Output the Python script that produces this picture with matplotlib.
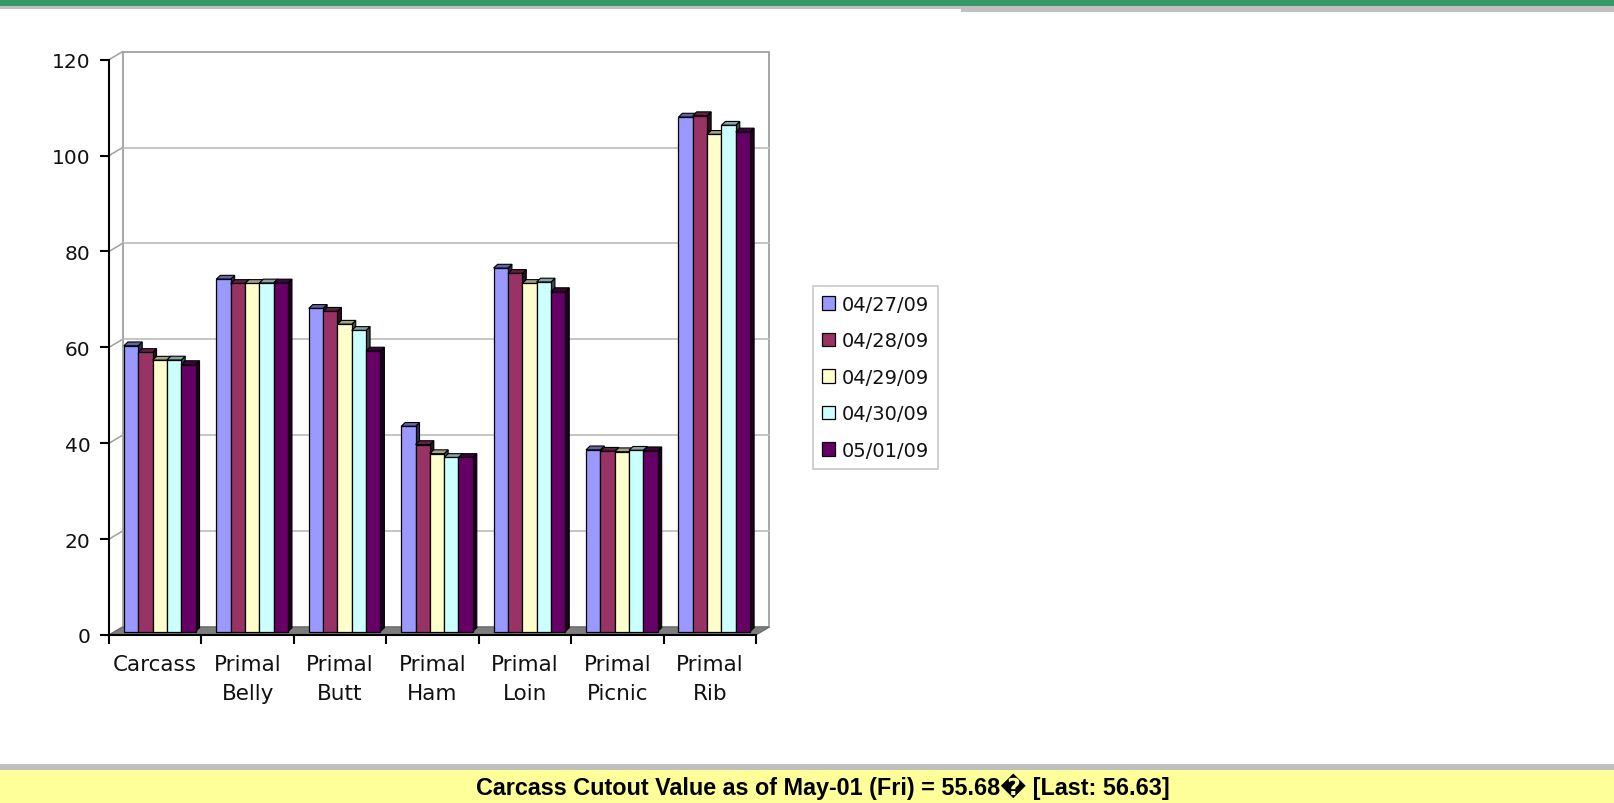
import matplotlib
matplotlib.use("Agg")
import matplotlib.pyplot as plt
from matplotlib.patches import Rectangle, Polygon, Patch
from matplotlib.colors import to_rgb
import numpy as np

categories = ["Carcass", "Primal\nBelly", "Primal\nButt", "Primal\nHam",
              "Primal\nLoin", "Primal\nPicnic", "Primal\nRib"]
dates = ["04/27/09", "04/28/09", "04/29/09", "04/30/09", "05/01/09"]
v_0427 = [59.6, 73.5, 67.4, 42.8, 75.8, 37.9, 107.3]
v_0428 = [58.2, 72.6, 66.8, 39.0, 74.7, 37.6, 107.6]
v_0429 = [56.6, 72.6, 64.1, 37.1, 72.6, 37.5, 103.7]
v_0430 = [56.63, 72.7, 62.8, 36.3, 72.9, 37.8, 105.6]
v_0501 = [55.68, 72.7, 58.5, 36.3, 70.9, 37.7, 104.2]
series = [v_0427, v_0428, v_0429, v_0430, v_0501]
colors = ["#9999FF", "#993366", "#FFFFCC", "#CCFFFF", "#660066"]
yticks = [0, 20, 40, 60, 80, 100, 120]
footer = "Carcass Cutout Value as of May-01 (Fri) = 55.68\ufffd [Last: 56.63]"

W, H = 1614, 804
fig = plt.figure(figsize=(W / 100, H / 100), dpi=100)
fig.patch.set_facecolor("white")

# plot area (front axis) in pixels
ax_l, ax_r, ax_b, ax_t = 109, 756, 636, 60.7
ax = fig.add_axes([ax_l / W, (H - ax_b) / H, (ax_r - ax_l) / W, (ax_b - ax_t) / H])
ax.set_xlim(0, len(categories))
ax.set_ylim(0, 120)
ax.patch.set_visible(False)

# pixel -> data units
ux = len(categories) / (ax_r - ax_l)
uy = 120 / (ax_b - ax_t)

# 3d depth of walls / bars (pixels)
wdx, wdy = 13.5, 8
sdx, sdy = 4.5, 3.5
bdx, bdy = 4, 3.8
n = len(categories)

# back wall + floor
ax.add_patch(Rectangle((wdx * ux, wdy * uy), n, 120, facecolor="white",
                       edgecolor="#a0a0a0", lw=1.3, zorder=0.5, clip_on=False))
for y in yticks[1:-1]:
    ax.plot([wdx * ux, n + wdx * ux], [y + wdy * uy] * 2, color="#c0c0c0",
            lw=1.3, zorder=0.6, clip_on=False)
for y in yticks:
    ax.plot([0, wdx * ux], [y, y + wdy * uy], color="#a0a0a0", lw=1.1,
            zorder=0.6, clip_on=False)
ax.add_patch(Polygon([(0, 0), (n, 0), (n + wdx * ux, wdy * uy), (wdx * ux, wdy * uy)],
                     closed=True, facecolor="#7d7d7d", edgecolor="#6a6a6a", lw=0.8,
                     zorder=1, clip_on=False))

# bars
bw = 0.155
for j, vals in enumerate(series):
    c = np.array(to_rgb(colors[j]))
    z = 3 + j * 0.01
    for i, v in enumerate(vals):
        x0 = i + 0.5 - 2.5 * bw + j * bw + sdx * ux
        y0 = sdy * uy
        dx, dy = bdx * ux, bdy * uy
        side = [(x0 + bw, y0), (x0 + bw + dx, y0 + dy), (x0 + bw + dx, y0 + v + dy), (x0 + bw, y0 + v)]
        top = [(x0, y0 + v), (x0 + bw, y0 + v), (x0 + bw + dx, y0 + v + dy), (x0 + dx, y0 + v + dy)]
        ax.add_patch(Polygon(side, closed=True, facecolor=c * 0.3, edgecolor="black",
                             lw=0.8, zorder=z, clip_on=False))
        ax.add_patch(Polygon(top, closed=True, facecolor=c * 0.65, edgecolor="black",
                             lw=0.8, zorder=z, clip_on=False))
    xs = np.arange(n) + 0.5 - 2.5 * bw + j * bw + sdx * ux
    ax.bar(xs, vals, bw, bottom=sdy * uy, align="edge", color=colors[j],
           edgecolor="black", lw=0.9, zorder=z + 0.005, clip_on=False)

# axes
for s in ["top", "right"]:
    ax.spines[s].set_visible(False)
for s in ["left", "bottom"]:
    ax.spines[s].set_color("black")
    ax.spines[s].set_linewidth(1.5)
    ax.spines[s].set_zorder(2)
ax.set_yticks(yticks)
ax.set_yticklabels([str(t) for t in yticks])
ax.set_xticks(range(n + 1))
ax.set_xticklabels([])
ax.set_xticks(np.arange(n) + 0.5, minor=True)
ax.set_xticklabels(categories, minor=True, linespacing=1.55)
ax.tick_params(axis="both", which="major", direction="out", length=6.5, width=1.5,
               color="black", labelsize=14.5, labelcolor="#111111")
ax.tick_params(axis="y", pad=7)
ax.tick_params(axis="x", which="minor", length=0, pad=14, labelsize=15.5,
               labelcolor="#111111")

# legend
handles = [Patch(facecolor=colors[j], edgecolor="black", lw=0.9, label=dates[j])
           for j in range(len(dates))]
leg = fig.legend(handles=handles, loc="upper left",
                 bbox_to_anchor=(813 / W, 1 - 287 / H), bbox_transform=fig.transFigure,
                 borderaxespad=0, fontsize=14, frameon=True, fancybox=False,
                 edgecolor="#c0c0c0", handlelength=0.67, handleheight=0.67,
                 handletextpad=0.35, labelspacing=0.9, borderpad=0.45)
leg.get_frame().set_linewidth(1.3)
for t in leg.get_texts():
    t.set_color("#111111")

# header / footer bands
fig.add_artist(Rectangle((0, 1 - 7 / H), 1, 7 / H, transform=fig.transFigure,
                         facecolor="#339966", edgecolor="none"))
fig.add_artist(Rectangle((0, 1 - 10 / H), 961 / W, 3 / H, transform=fig.transFigure,
                         facecolor="#c0c0c0", edgecolor="none"))
fig.add_artist(Rectangle((961 / W, 1 - 12.7 / H), 1 - 961 / W, 5.7 / H,
                         transform=fig.transFigure, facecolor="#c0c0c0", edgecolor="none"))
fig.add_artist(Rectangle((0, 0), 1, (H - 765) / H, transform=fig.transFigure,
                         facecolor="#c0c0c0", edgecolor="none"))
fig.add_artist(Rectangle((0, 0), 1, (H - 771) / H, transform=fig.transFigure,
                         facecolor="#FFFF99", edgecolor="none"))
fig.text(823 / W, 1 - 787 / H, footer, ha="center", va="center", fontsize=16.8,
         fontweight="bold", family=["Liberation Sans", "DejaVu Sans"])

fig.savefig("out.png", dpi=100)
